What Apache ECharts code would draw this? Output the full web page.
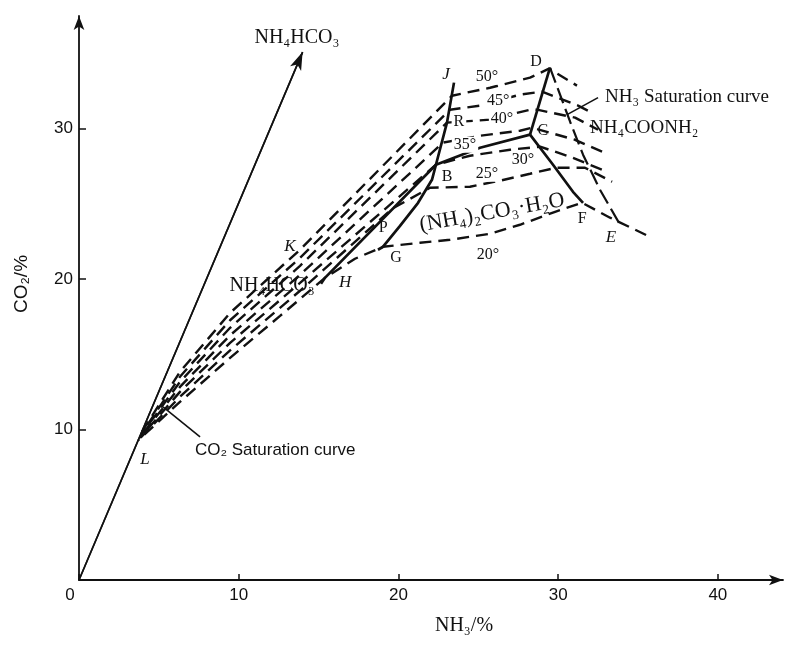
<!DOCTYPE html>
<html><head><meta charset="utf-8">
<script src="https://cdn.jsdelivr.net/npm/echarts@6/dist/echarts.min.js"></script>
<style>html,body{margin:0;padding:0;background:#fff}#c{width:809px;height:646px}</style>
</head><body><div id="c"></div>
<script>
// NH3 % (x), CO2 % (y)
const xTicks = [0, 10, 20, 30, 40];
const yTicks = [10, 20, 30];

// NH4HCO3 composition ray from origin
const rayNH4HCO3 = [[0, 0], [14.0, 35.1]];

// solid phase boundaries
const lineJRB = [[23.48, 33.07], [23.04, 30.41], [22.35, 27.61]];
const lineBG  = [[22.35, 27.61], [22.10, 26.61], [21.23, 25.08], [20.10, 23.55], [19.04, 22.16], [18.72, 21.96]];
const lineBH  = [[22.35, 27.61], [15.40, 20.09], [15.15, 19.69]];
const lineBC  = [[22.35, 27.61], [25.11, 28.74], [28.24, 29.61]];
const lineCD  = [[28.24, 29.61], [29.49, 34.07]];
const lineCF  = [[28.24, 29.61], [29.68, 27.61], [30.93, 25.81], [31.56, 25.08]];
const lineNH3sat = [[29.49, 34.07], [30.75, 30.47], [31.56, 28.28], [32.62, 25.95], [33.88, 23.62]];

// pointer lines
const ptrCO2 = [[5.26, 11.51], [7.58, 9.51]];
const ptrNH3 = [[32.50, 32.07], [30.56, 30.94]];

// isotherms (dashed)
const iso50 = [[3.94, 9.85], [6.32, 13.84], [9.46, 17.76], [13.84, 21.96], [23.36, 32.20], [25.74, 32.73], [28.24, 33.40], [29.43, 34.00], [31.18, 32.87]];
const iso45 = [[3.92, 9.75], [6.32, 13.51], [9.46, 17.27], [13.84, 21.42], [23.23, 31.27], [25.11, 31.54], [27.61, 32.27], [28.99, 32.47], [31.25, 31.54], [32.12, 31.07]];
const iso40 = [[3.88, 9.65], [6.32, 13.17], [9.46, 16.77], [13.84, 20.89], [23.04, 30.41], [25.74, 30.61], [28.24, 31.27], [28.68, 31.27], [31.06, 30.74], [32.50, 29.94]];
const iso35 = [[3.85, 9.55], [6.32, 12.84], [9.46, 16.27], [13.84, 20.29], [22.79, 29.08], [25.11, 29.54], [27.61, 29.87], [28.37, 30.07], [31.06, 29.27], [32.75, 28.48]];
const iso30 = [[3.82, 9.45], [6.32, 12.51], [9.46, 15.77], [13.84, 19.75], [22.35, 27.61], [24.48, 28.21], [26.99, 28.61], [28.87, 28.81], [30.75, 28.14], [33.06, 27.15]];
const iso25 = [[3.78, 9.38], [6.32, 12.18], [9.46, 15.27], [13.84, 19.23], [19.60, 24.68], [21.98, 26.08], [24.48, 26.15], [26.36, 26.55], [28.24, 27.01], [29.87, 27.41], [31.68, 27.41], [33.38, 26.48]];
const iso20 = [[3.72, 9.30], [6.32, 11.84], [9.46, 14.77], [12.59, 17.56], [15.40, 20.09], [17.28, 21.36], [19.04, 22.16], [21.35, 22.42], [23.23, 22.62], [25.74, 23.02], [27.61, 23.62], [29.81, 24.48], [31.50, 25.08], [33.25, 24.09], [35.88, 22.75]];

// annotation texts and anchor points (NH3 %, CO2 %)
const labelTexts = ['NH₄HCO₃', 'J', 'D', '50°', '45°', 'R', '40°', '35°', 'C', 'B', '25°', '30°', '(NH₄)₂CO₃·H₂O', 'F', 'E', '20°', 'K', 'P', 'H', 'G', 'NH₄HCO₃', 'L', 'CO₂ Saturation curve', 'NH₃ Saturation curve', 'NH₄COONH₂'];
const labelAnchors = [[13.65, 36.06], [22.98, 33.60], [28.62, 34.46], [25.55, 33.47], [26.24, 31.87], [23.79, 30.47], [26.49, 30.67], [24.17, 28.94], [29.05, 29.87], [23.04, 26.81], [25.55, 27.01], [27.80, 27.94], [25.86, 24.42], [31.50, 24.02], [33.31, 22.75], [25.61, 21.62], [13.21, 22.16], [19.04, 23.42], [16.66, 19.76], [19.85, 21.42], [12.09, 19.56], [4.13, 7.98], [7.26, 8.65], [32.94, 32.14], [32.0, 30.07]];

const SERIF = "'Liberation Serif','DejaVu Serif',serif";
const SANS = "'Liberation Sans','DejaVu Sans',sans-serif";
const INK = '#111';
const labelStyle = {
  'NH₄HCO₃': {size: 20}, 'J': {size: 17, italic: true}, 'K': {size: 17, italic: true}, 'H': {size: 17, italic: true},
  'L': {size: 17, italic: true}, 'E': {size: 17, italic: true},
  '50°': {size: 16, bg: true}, '45°': {size: 16, bg: true}, '40°': {size: 16, bg: true}, '35°': {size: 16, bg: true},
  '30°': {size: 16, bg: true}, '25°': {size: 16, bg: true}, '20°': {size: 16, bg: true}, 'R': {size: 16, bg: true},
  '(NH₄)₂CO₃·H₂O': {size: 22, rotate: 10},
  'CO₂ Saturation curve': {size: 17, sans: true, left: true},
  'NH₃ Saturation curve': {size: 19, left: true},
  'NH₄COONH₂': {size: 19, left: true}
};

function solid(data, w) {
  return {type: 'line', data: data, symbol: 'none', silent: true, z: 3, lineStyle: {color: INK, width: w || 2.6}};
}
const dashOffsets = [0, 9, 4, 14, 7, 17, 11];
function dashed(data, i) {
  return {type: 'line', data: data, symbol: 'none', silent: true, z: 2,
    lineStyle: {color: INK, width: 2.4, type: [12, 7], dashOffset: dashOffsets[i]}};
}

const series = [];
series.push({
  type: 'line', data: rayNH4HCO3, symbol: 'none', silent: true, lineStyle: {color: INK, width: 1.6},
  markLine: {silent: true, symbol: ['none', 'arrow'], symbolSize: [9, 18], label: {show: false},
    lineStyle: {color: INK, width: 1.6, type: 'solid'},
    data: [[{coord: rayNH4HCO3[0]}, {coord: rayNH4HCO3[1]}]]}
});
[iso50, iso45, iso40, iso35, iso30, iso25, iso20].forEach((d, i) => series.push(dashed(d, i)));
[lineJRB, lineBG, lineBH, lineBC, lineCD, lineCF].forEach(d => series.push(solid(d, 2.7)));
series.push({type: 'line', data: lineNH3sat, symbol: 'none', silent: true, z: 3, lineStyle: {color: INK, width: 2.2, type: [16, 6]}});
series.push(solid(ptrCO2, 1.6));
series.push(solid(ptrNH3, 1.6));

series.push({
  type: 'scatter', symbolSize: 0, silent: true, clip: false, z: 10,
  itemStyle: {opacity: 1},
  data: labelTexts.map((t, i) => {
    const s = labelStyle[t] || {size: 16};
    return {
      value: labelAnchors[i],
      label: {
        show: true, formatter: t, position: s.left ? 'right' : 'inside', distance: 0,
        rotate: s.rotate || 0, color: INK, opacity: 1, fontSize: s.size,
        textBorderWidth: 0, textShadowBlur: 0,
        backgroundColor: s.bg ? '#fff' : 'transparent', padding: s.bg ? [0, 2] : 0,
        fontFamily: s.sans ? SANS : SERIF, fontStyle: s.italic ? 'italic' : 'normal'
      }
    };
  })
});

const chart = echarts.init(document.getElementById('c'), null, {renderer: 'canvas'});
chart.setOption({
  animation: false,
  backgroundColor: '#fff',
  grid: {left: 79, right: 26, top: 16, bottom: 66},
  xAxis: {
    type: 'value', min: xTicks[0], max: 44.08, interval: 10,
    axisLine: {lineStyle: {color: INK, width: 1.8}, symbol: ['none', 'arrow'], symbolSize: [8, 14]},
    axisTick: {inside: true, length: 6, lineStyle: {color: INK, width: 1.5}},
    splitLine: {show: false},
    axisLabel: {color: INK, fontSize: 17, fontFamily: SANS, margin: 7, showMaxLabel: false,
      formatter: v => xTicks.indexOf(v) < 0 ? '' : (v === 0 ? '{z|0}' : String(v)),
      rich: {z: {padding: [0, 18, 0, 0], fontSize: 17, fontFamily: SANS, color: INK}}},
    name: 'NH₃/%', nameLocation: 'middle', nameGap: 36,
    nameTextStyle: {color: INK, fontSize: 20, fontFamily: SERIF, padding: [0, 0, 0, 66]}
  },
  yAxis: {
    type: 'value', min: 0, max: 37.5, interval: 10,
    axisLine: {lineStyle: {color: INK, width: 1.8}, symbol: ['none', 'arrow'], symbolSize: [8, 14]},
    axisTick: {inside: true, length: 7, lineStyle: {color: INK, width: 1.5}},
    splitLine: {show: false},
    axisLabel: {color: INK, fontSize: 17, fontFamily: SANS, margin: 6, showMinLabel: false, showMaxLabel: false,
      formatter: v => yTicks.indexOf(v) < 0 ? '' : String(v)},
    name: 'CO₂/%', nameLocation: 'middle', nameGap: 48, nameRotate: 90,
    nameTextStyle: {color: INK, fontSize: 19, fontFamily: SANS, padding: [0, 0, 0, 28]}
  },
  series: series
});
</script>
</body></html>
